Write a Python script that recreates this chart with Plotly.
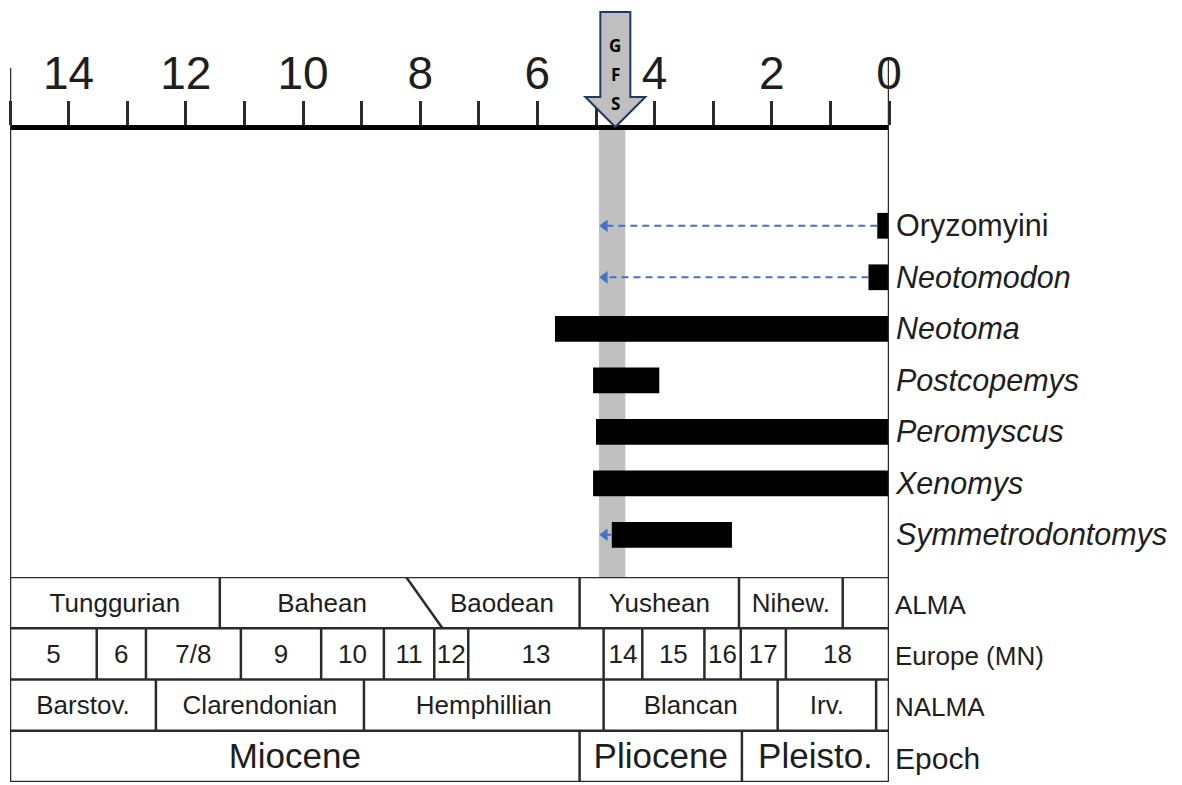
import plotly.graph_objects as go

# ---------------- data ----------------
taxa = ["Oryzomyini", "Neotomodon", "Neotoma", "Postcopemys",
        "Peromyscus", "Xenomys", "Symmetrodontomys"]
first_app = [0.20, 0.35, 5.70, 5.05, 5.00, 5.05, 4.73]   # oldest record (Ma)
last_app = [0.00, 0.00, 0.00, 3.92, 0.00, 0.00, 2.68]    # youngest record (Ma)
taxa_italic = [False, True, True, True, True, True, True]
extends_to_gfs = [True, True, False, False, False, False, True]

gfs_range = [4.50, 4.95]        # Ma, grey band
gfs_label = ["G", "F", "S"]

age_ticks = list(range(0, 16))
age_labels = [str(v) if (v % 2 == 0 and v < 15) else "" for v in age_ticks]

alma_names = ["Tunggurian", "Bahean", "Baodean", "Yushean", "Nihew.", ""]
alma_bounds_top = [15, 11.42, 8.24, 5.28, 2.56, 0.79, 0]
alma_bounds_bottom = [15, 11.42, 7.62, 5.28, 2.56, 0.79, 0]

mn_names = ["5", "6", "7/8", "9", "10", "11", "12", "13", "14", "15", "16", "17", "18"]
mn_bounds = [15, 13.52, 12.68, 11.06, 9.69, 8.62, 7.76, 7.18, 4.87, 4.21, 3.15, 2.53, 1.76, 0]

nalma_names = ["Barstov.", "Clarendonian", "Hemphillian", "Blancan", "Irv.", ""]
nalma_bounds = [15, 12.51, 8.96, 4.87, 1.90, 0.22, 0]

epoch_names = ["Miocene", "Pliocene", "Pleisto."]
epoch_bounds = [15, 5.28, 2.51, 0]

row_names = ["ALMA", "Europe (MN)", "NALMA", "Epoch"]

# ---------------- layout constants ----------------
W, H = 1182, 785
X0, X1 = 10, 889          # pixel extent of time axis
Y_TOP, Y_MID, Y_BOT = 130, 577, 782
px_per_ma = (X1 - X0) / 15.0
FONT = "Liberation Sans, Arial, Helvetica, sans-serif"
LINE = "#2b2b2b"
TXT = "#1e1e1e"


def py(p):  # pixel y -> paper y
    return 1 - p / H


fig = go.Figure()

# range bars
fig.add_trace(go.Bar(
    y=taxa, x=[f - l for f, l in zip(first_app, last_app)], base=last_app,
    orientation="h", width=0.5, marker=dict(color="black", line=dict(width=0)),
    hoverinfo="skip", showlegend=False))

# dashed extensions to GFS
for t, f, ext in zip(taxa, first_app, extends_to_gfs):
    if ext:
        fig.add_trace(go.Scatter(
            x=[f, gfs_range[1] - 0.12], y=[t, t], mode="lines",
            line=dict(color="#4472c4", width=2, dash="7px,5px"),
            showlegend=False, hoverinfo="skip"))
        fig.add_trace(go.Scatter(
            x=[gfs_range[1] - 0.1], y=[t], mode="markers",
            marker=dict(symbol="triangle-left", size=11, color="#4472c4"),
            showlegend=False, hoverinfo="skip"))

# ---------------- chronology table ----------------
shapes = []
annotations = []
line_style = dict(color=LINE, width=2.5)
shapes.append(dict(type="rect", xref="x", yref="y2", x0=15, x1=0, y0=0, y1=4,
                   line=line_style, layer="above"))
for r in (1, 2, 3):
    shapes.append(dict(type="line", xref="x", yref="y2", x0=15, x1=0, y0=r, y1=r,
                       line=line_style, layer="above"))

text_x, text_y, text_s, text_size = [], [], [], []


def add_row(names, bounds, row_bottom, size, bounds_bottom=None):
    if bounds_bottom is None:
        bounds_bottom = bounds
    for i in range(1, len(bounds) - 1):
        shapes.append(dict(type="line", xref="x", yref="y2",
                           x0=bounds[i], x1=bounds_bottom[i],
                           y0=row_bottom + 1, y1=row_bottom,
                           line=line_style, layer="above"))
    for i, n in enumerate(names):
        if not n:
            continue
        left = (bounds[i] + bounds_bottom[i]) / 2
        right = (bounds[i + 1] + bounds_bottom[i + 1]) / 2
        text_x.append((left + right) / 2)
        text_y.append(row_bottom + 0.45)
        text_s.append(n)
        text_size.append(size)


add_row(alma_names, alma_bounds_top, 3, 26, alma_bounds_bottom)
add_row(mn_names, mn_bounds, 2, 26)
add_row(nalma_names, nalma_bounds, 1, 26)
add_row(epoch_names, epoch_bounds, 0, 35)

fig.add_trace(go.Scatter(
    x=text_x, y=text_y, text=text_s, mode="text", yaxis="y2",
    textfont=dict(family=FONT, size=text_size, color=TXT),
    textposition="middle center", showlegend=False, hoverinfo="skip",
    cliponaxis=False))

# row labels to the right of the table
for name, yrow, fs in zip(row_names, [3.5, 2.5, 1.5, 0.5], [26, 26, 26, 30]):
    annotations.append(dict(x=0, y=yrow, xref="x", yref="y2", text=name,
                            xanchor="left", yanchor="middle", xshift=4, yshift=-2,
                            showarrow=False, font=dict(family=FONT, size=fs, color=TXT)))

# grey GFS band
shapes.append(dict(type="rect", xref="x", yref="y domain", x0=gfs_range[0], x1=gfs_range[1],
                   y0=0, y1=1, fillcolor="#c0c0c0", line=dict(width=0), layer="below"))

# left frame line (tall end tick) and right frame line / 0 tick
shapes.append(dict(type="line", xref="x", yref="paper", x0=15, x1=15,
                   y0=py(68), y1=py(Y_MID), line=dict(color=LINE, width=2.5), layer="above"))
shapes.append(dict(type="line", xref="x", yref="paper", x0=0, x1=0,
                   y0=py(60), y1=py(Y_MID), line=dict(color=LINE, width=2.5), layer="above"))

# GFS arrow
ax = 4.67
sh = 15 / px_per_ma
hh = 30 / px_per_ma
path = (f"M {ax - sh},{py(12)} L {ax + sh},{py(12)} L {ax + sh},{py(97)} "
        f"L {ax + hh},{py(97)} L {ax},{py(127)} L {ax - hh},{py(97)} "
        f"L {ax - sh},{py(97)} Z")
shapes.append(dict(type="path", xref="x", yref="paper", path=path,
                   fillcolor="#bfbfbf", line=dict(color="#1f3864", width=2), layer="above"))

for letter, ypx in zip(gfs_label, [32, 61, 90]):
    annotations.append(dict(x=ax, y=py(ypx), xref="x", yref="paper", text=f"<b>{letter}</b>",
                            showarrow=False,
                            font=dict(family="Open Sans, Lato, sans-serif", size=17, color="black")))

ticktext_taxa = [f"<i>{t}</i>" if it else t for t, it in zip(taxa, taxa_italic)]

fig.update_layout(
    width=W, height=H, margin=dict(l=0, r=0, t=0, b=0, autoexpand=False),
    paper_bgcolor="white", plot_bgcolor="rgba(0,0,0,0)",
    showlegend=False, barmode="overlay",
    shapes=shapes, annotations=annotations,
    xaxis=dict(domain=[X0 / W, X1 / W], range=[15, 0], side="top", anchor="y",
               automargin=False,
               tickmode="array", tickvals=age_ticks, ticktext=age_labels,
               ticks="outside", ticklen=24, tickwidth=2.5, tickcolor=LINE,
               ticklabelstandoff=-6,
               tickfont=dict(family=FONT, size=46, color=TXT),
               showline=True, linewidth=4.5, linecolor="black",
               showgrid=False, zeroline=False, fixedrange=True),
    yaxis=dict(domain=[py(Y_MID), py(Y_TOP)], type="category",
               automargin=False,
               categoryorder="array", categoryarray=taxa,
               range=[6.82, -1.86], side="right", anchor="x",
               tickmode="array", tickvals=taxa, ticktext=ticktext_taxa,
               ticks="", ticklabelstandoff=6,
               tickfont=dict(family=FONT, size=30.5, color=TXT),
               showline=False, showgrid=False, zeroline=False, fixedrange=True),
    yaxis2=dict(domain=[py(Y_BOT), py(Y_MID)], range=[0, 4], anchor="x",
                automargin=False, visible=False, fixedrange=True),
)

fig.write_html("out.html", config={"displayModeBar": False},
               post_script="document.body.style.margin='0';document.body.style.overflow='hidden';")
